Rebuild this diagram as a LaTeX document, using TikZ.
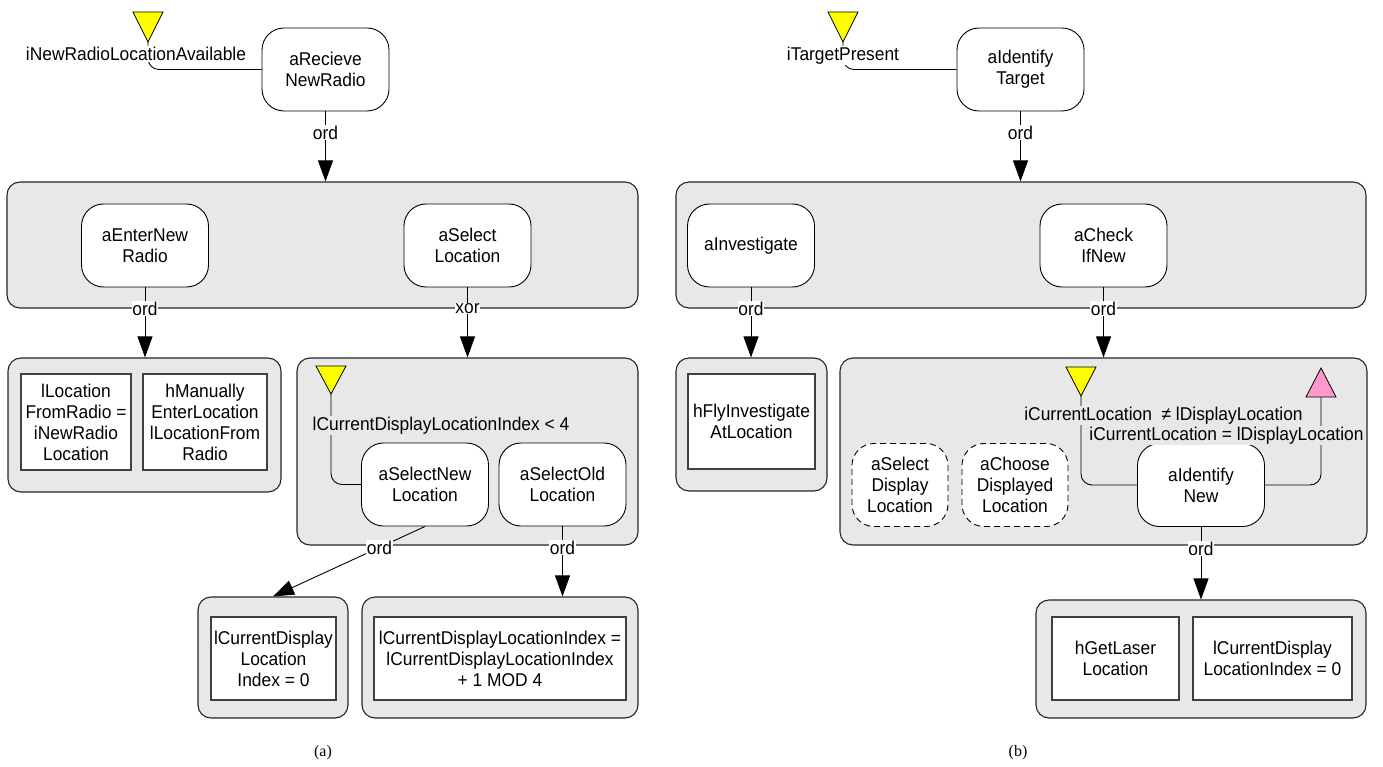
\documentclass[tikz,border=0pt]{standalone}
\usepackage{fontspec}
\setmainfont[FakeStretch=0.94]{Liberation Sans}
\newfontfamily\capfont{Liberation Serif}
\usetikzlibrary{arrows.meta}
\definecolor{grayfill}{RGB}{232,232,232}
\definecolor{trigyellow}{RGB}{255,255,0}
\definecolor{trigpink}{RGB}{255,153,204}
\tikzset{
  act/.style={draw=black, line width=0.9pt, fill=white, rounded corners=22pt,
    minimum width=127pt, minimum height=83pt, align=center, inner sep=0pt},
  dact/.style={act, dash pattern=on 6pt off 4pt},
  grp/.style={draw=black!85, line width=1.1pt, fill=grayfill, rounded corners=13pt, inner sep=0pt},
  leaf/.style={draw=black!75, line width=1.5pt, fill=white, align=center, inner sep=0pt},
  conn/.style={line width=0.9pt, -{Triangle[length=21pt,width=15pt]}},
  wire/.style={line width=0.9pt, rounded corners=11pt},
  lab/.style={fill=white, inner sep=0.6pt, pos=0.3},
  freelab/.style={anchor=base, inner sep=1pt},
  ytri/.style={draw=black, line width=0.8pt, fill=trigyellow},
  ptri/.style={draw=black, line width=0.8pt, fill=trigpink},
  captext/.style={font=\capfont\fontsize{16}{18}\selectfont, anchor=base},
}
\begin{document}
\begin{tikzpicture}[x=1pt, y=-1pt, font=\fontsize{18.5}{21}\selectfont]
\useasboundingbox (0,0) rectangle (1383,767);

% ---------------- (a) ----------------
\node[grp, minimum width=631pt, minimum height=126pt] (gA1) at (322.5,245) {};
\node[grp, minimum width=273pt, minimum height=134pt] (gA2) at (144.5,425) {};
\node[grp, minimum width=341pt, minimum height=187pt] (gA3) at (467.5,451.5) {};
\node[grp, minimum width=150pt, minimum height=121pt] (gA4) at (273,657.5) {};
\node[grp, minimum width=276pt, minimum height=121pt] (gA5) at (500,657.5) {};

\node[act] (aRecieve) at (325.5,69.5) {aRecieve\\NewRadio};
\node[act] (aEnterNew) at (145,245.5) {aEnterNew\\Radio};
\node[act] (aSelect) at (467.5,245.5) {aSelect\\Location};
\node[act] (aSelectNew) at (425,484.5) {aSelectNew\\Location};
\node[act] (aSelectOld) at (562.5,484.5) {aSelectOld\\Location};

\node[leaf, minimum width=110pt, minimum height=96pt] (lA1) at (76,422) {lLocation\\FromRadio =\\iNewRadio\\Location};
\node[leaf, minimum width=124pt, minimum height=96pt] (lA2) at (205,422) {hManually\\EnterLocation\\lLocationFrom\\Radio};
\node[leaf, minimum width=125pt, minimum height=83pt] (lA3) at (273.5,658.5) {lCurrentDisplay\\Location\\Index = 0};
\node[leaf, minimum width=252pt, minimum height=83pt] (lA4) at (500,658.5) {lCurrentDisplayLocationIndex =\\lCurrentDisplayLocationIndex\\+ 1 MOD 4};

% triangles (a)
\draw[ytri] (133,12) -- (163,12) -- (148,42) -- cycle;
\coordinate (tA1) at (148,42);
\draw[ytri] (316,366) -- (346,366) -- (331,394) -- cycle;
\coordinate (tA2) at (331,394);

\draw[wire] (tA1) |- (aRecieve.west);
\node[freelab, fill=white] (cA1) at (136,60.5) {iNewRadioLocationAvailable};
\draw[wire] (tA2) |- (aSelectNew.west);
\node[freelab, fill=grayfill] (cA2) at (441,430) {lCurrentDisplayLocationIndex < 4};

\draw[conn] (aRecieve.south) -- (aRecieve.south |- gA1.north) node[lab] {ord};
\draw[conn] (aEnterNew.south) -- (aEnterNew.south |- gA2.north) node[lab] {ord};
\draw[conn] (aSelect.south) -- (aSelect.south |- gA3.north) node[lab] {xor};
\draw[conn] (aSelectNew.south) -- (gA4.north) node[lab] {ord};
\draw[conn] (aSelectOld.south) -- (aSelectOld.south |- gA5.north) node[lab] {ord};

\node[captext] (capA) at (323,756) {(a)};

% ---------------- (b) ----------------
\node[grp, minimum width=690pt, minimum height=126pt] (gB1) at (1021,245) {};
\node[grp, minimum width=151pt, minimum height=133pt] (gB2) at (751.5,424.5) {};
\node[grp, minimum width=527pt, minimum height=187pt] (gB3) at (1103.5,451.5) {};
\node[grp, minimum width=330pt, minimum height=118pt] (gB4) at (1201,659) {};

\node[act] (aIdentifyTarget) at (1020.5,69.5) {aIdentify\\Target};
\node[act] (aInvestigate) at (751,245.5) {aInvestigate};
\node[act] (aCheck) at (1103.5,245.5) {aCheck\\IfNew};
\node[act] (aIdentifyNew) at (1201,485) {aIdentify\\New};
\node[dact, minimum width=96pt] (aSelDisp) at (900,485) {aSelect\\Display\\Location};
\node[dact, minimum width=106pt] (aChoose) at (1015,485) {aChoose\\Displayed\\Location};

\node[leaf, minimum width=127pt, minimum height=95pt] (lB1) at (751.5,421.5) {hFlyInvestigate\\AtLocation};
\node[leaf, minimum width=127pt, minimum height=83pt] (lB2) at (1115.5,658.5) {hGetLaser\\Location};
\node[leaf, minimum width=159pt, minimum height=83pt] (lB3) at (1272.5,658.5) {lCurrentDisplay\\LocationIndex = 0};

\draw[ytri] (828,12) -- (858,12) -- (843,42) -- cycle;
\coordinate (tB1) at (843,42);
\draw[ytri] (1066,367) -- (1096,367) -- (1081,396) -- cycle;
\coordinate (tB2) at (1081,396);
\draw[ptri] (1306,397) -- (1336,397) -- (1321,368) -- cycle;
\coordinate (tB3) at (1321,397);

\draw[wire] (tB1) |- (aIdentifyTarget.west);
\node[freelab, fill=white] (cB1) at (843,60.5) {iTargetPresent};
\draw[wire] (tB2) |- (aIdentifyNew.west);
\draw[wire] (aIdentifyNew.east) -| (tB3);
\node[freelab, fill=grayfill] (cB2) at (1163.5,420) {iCurrentLocation \ ≠ lDisplayLocation};
\node[freelab, fill=grayfill] (cB3) at (1226.5,440) {iCurrentLocation = lDisplayLocation};

\draw[conn] (aIdentifyTarget.south) -- (aIdentifyTarget.south |- gB1.north) node[lab] {ord};
\draw[conn] (aInvestigate.south) -- (aInvestigate.south |- gB2.north) node[lab] {ord};
\draw[conn] (aCheck.south) -- (aCheck.south |- gB3.north) node[lab] {ord};
\draw[conn] (aIdentifyNew.south) -- (aIdentifyNew.south |- gB4.north) node[lab] {ord};

\node[captext] (capB) at (1018,756) {(b)};
\end{tikzpicture}
\end{document}
